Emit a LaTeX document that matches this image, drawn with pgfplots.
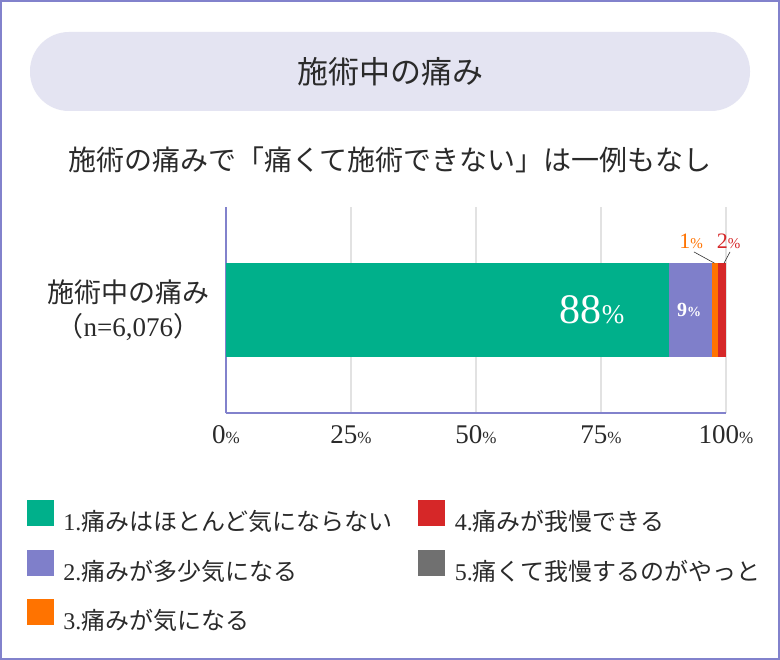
\documentclass[border=0pt]{standalone}
\usepackage{fontspec}
\setmainfont{Liberation Serif}
\usepackage{pgfplots}
\pgfplotsset{compat=1.18}
\newfontfamily\jp{Noto Sans CJK JP}
\definecolor{cgreen}{HTML}{00B08B}
\definecolor{cpurple}{HTML}{7F7FCA}
\definecolor{corange}{HTML}{FF7300}
\definecolor{cred}{HTML}{D62728}
\definecolor{cgray}{HTML}{707070}
\definecolor{framec}{HTML}{8282CC}
\definecolor{titlebg}{HTML}{E4E4F2}
\definecolor{gridc}{HTML}{E2E2E2}
\definecolor{txt}{HTML}{2A2A2A}
\newcommand\lgA[1]{\hspace*{10pt}\makebox[355pt][l]{\rule[-7pt]{0pt}{24pt}#1}}
\newcommand\lgB[1]{\hspace*{10pt}\rule[-7pt]{0pt}{24pt}#1}
\newcommand\pc[1]{{\fontsize{#1}{#1}\selectfont\%}}
\newcommand\ylab{{\jp 施術中の痛み}\\{\jp （}n=6,076{\jp ）}}
\newcommand\sw[1]{\addlegendimage{legend image code/.code={\fill[#1] (0pt,-4pt) rectangle (26pt,21pt);}}}
\begin{document}
\begin{tikzpicture}[x=1pt,y=1pt]
\useasboundingbox (0,0) rectangle (780,-660);
\fill[white] (0,0) rectangle (780,-660);
\draw[framec, line width=2pt] (1,-1) rectangle (779,-659);
\fill[titlebg, rounded corners=39pt] (30,-32) rectangle (750,-111);
\node[font=\jp\fontsize{31}{31}\selectfont, text=txt] at (390,-72) {施術中の痛み};
\node[font=\jp\fontsize{28}{28}\selectfont, text=txt] at (390,-160) {施術の痛みで「痛くて施術できない」は一例もなし};

\begin{axis}[
  at={(226pt,-413pt)}, anchor=south west,
  scale only axis, width=500pt, height=206pt,
  xbar stacked, bar width=94pt,
  xmin=0, xmax=100, ymin=-1.1, ymax=1.1,
  axis x line=bottom, axis y line=left,
  axis line style={framec, line width=2pt, -},
  xtick={0,25,50,75,100},
  xticklabels={0\pc{17},25\pc{17},50\pc{17},75\pc{17},100\pc{17}},
  xticklabel style={font=\fontsize{27}{27}\selectfont, text=txt, yshift=-9pt},
  xmajorgrids, major grid style={gridc, line width=1.5pt},
  major tick length=0pt,
  ytick={0},
  yticklabel={\ylab},
  yticklabel style={align=center, font=\fontsize{27}{34}\selectfont, text=txt, xshift=-13pt},
  clip=false,
  legend columns=2,
  legend cell align=left,
  legend style={at={(-0.398,-0.4225)}, anchor=north west, draw=none, fill=none,
    inner sep=0pt, outer sep=0pt, row sep=17.5pt, column sep=0pt,
    font=\fontsize{24}{24}\selectfont, text=txt,
    nodes={inner sep=0pt}},
]
\addplot[fill=cgreen, draw=none, forget plot] coordinates {(88.6,0)};
\addplot[fill=cpurple, draw=none, forget plot] coordinates {(8.5,0)};
\addplot[fill=corange, draw=none, forget plot] coordinates {(1.3,0)};
\addplot[fill=cred, draw=none, forget plot] coordinates {(1.6,0)};
\addplot[fill=cgray, draw=none, forget plot] coordinates {(0,0)};

\sw{cgreen}
\addlegendentry{\lgA{1.{\jp 痛みはほとんど気にならない}}}
\sw{cred}
\addlegendentry{\lgB{4.{\jp 痛みが我慢できる}}}
\sw{cpurple}
\addlegendentry{\lgA{2.{\jp 痛みが多少気になる}}}
\sw{cgray}
\addlegendentry{\lgB{5.{\jp 痛くて我慢するのがやっと}}}
\sw{corange}
\addlegendentry{\lgA{3.{\jp 痛みが気になる}}}

\coordinate (l88) at (axis cs:73.2,0);
\coordinate (l9) at (axis cs:92.6,0);
\coordinate (l1) at (axis cs:93,0.73);
\coordinate (l2) at (axis cs:100.5,0.73);
\coordinate (a1) at (axis cs:93.6,0.62);
\coordinate (b1) at (axis cs:97.7,0.5);
\coordinate (a2) at (axis cs:100.8,0.62);
\coordinate (b2) at (axis cs:99.6,0.5);
\end{axis}
\node[text=white, font=\fontsize{42}{42}\selectfont] at (l88) {88\pc{27}};
\node[text=white, font=\bfseries\fontsize{20}{20}\selectfont] at (l9) {9\pc{14}};
\node[text=corange, font=\fontsize{22}{22}\selectfont] at (l1) {1\pc{15}};
\node[text=cred, font=\fontsize{22}{22}\selectfont] at (l2) {2\pc{15}};
\draw[black!80, line width=0.6pt] (a1) -- (b1);
\draw[black!80, line width=0.6pt] (a2) -- (b2);
\end{tikzpicture}
\end{document}
